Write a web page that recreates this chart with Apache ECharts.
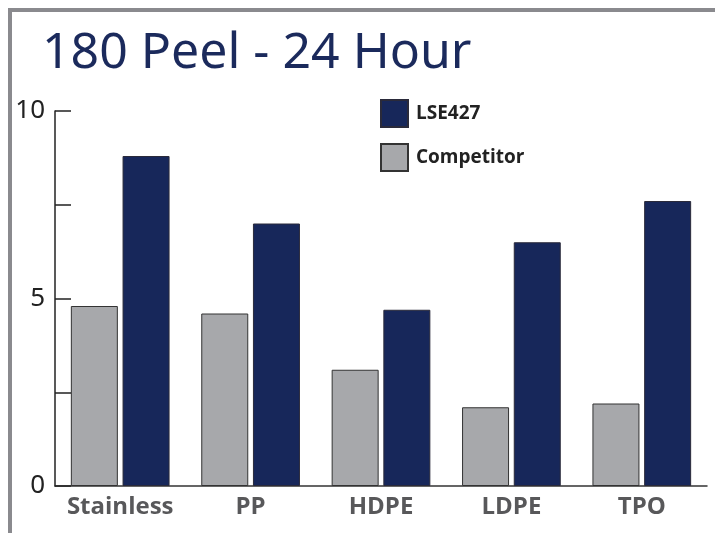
<!DOCTYPE html>
<html><head><meta charset="utf-8">
<script src="https://cdn.jsdelivr.net/npm/echarts@6/dist/echarts.min.js"></script>
<style>html,body{margin:0;padding:0;background:#fff;}#c{width:715px;height:533px;}</style>
</head><body><div id="c"></div>
<script>
const categories = ['Stainless', 'PP', 'HDPE', 'LDPE', 'TPO'];
const competitor = [4.8, 4.6, 3.1, 2.1, 2.2];
const lse427 = [8.8, 7.0, 4.7, 6.5, 7.6];
const yTickLabels = [0, 5, 10];

const chart = echarts.init(document.getElementById('c'));
chart.setOption({
  animation: false,
  backgroundColor: '#fff',
  title: {
    text: '180 Peel - 24 Hour',
    left: 37, top: 24,
    textStyle: { fontFamily: 'Noto Sans', fontWeight: 'normal', fontSize: 50, color: '#1b2a5c' }
  },
  graphic: [
    { type: 'rect', shape: { x: 8, y: 8, width: 707, height: 4 }, style: { fill: '#8a8a8e' } },
    { type: 'rect', shape: { x: 8, y: 8, width: 4, height: 525 }, style: { fill: '#8a8a8e' } }
  ],
  legend: {
    data: ['LSE427', 'Competitor'],
    orient: 'vertical', left: 380, top: 99, padding: 0,
    itemWidth: 27, itemHeight: 27, itemGap: 15,
    icon: 'rect',
    textStyle: { fontFamily: 'Open Sans', fontWeight: 'bold', fontSize: 19, color: '#222', padding: [0, 0, 0, 3] }
  },
  grid: { left: 55, right: 8, top: 111, bottom: 47, containLabel: false },
  xAxis: {
    type: 'category', data: categories,
    axisLine: { lineStyle: { color: '#333', width: 1.5 } },
    axisTick: { inside: true, length: 8, lineStyle: { color: '#333', width: 1.5 } },
    axisLabel: { interval: 0, margin: 9, fontFamily: 'Open Sans', fontWeight: 'bold', fontSize: 24, color: '#58585a' }
  },
  yAxis: {
    type: 'value', min: 0, max: 10, interval: 2.5,
    splitLine: { show: false },
    axisLine: { show: true, lineStyle: { color: '#222', width: 1.5 } },
    axisTick: { show: true, inside: true, length: 16, lineStyle: { color: '#222', width: 1.5 } },
    axisLabel: {
      margin: 10, fontFamily: 'Noto Sans', fontSize: 26, color: '#222',
      formatter: v => yTickLabels.includes(v) ? String(v) : ''
    }
  },
  series: [
    { name: 'Competitor', type: 'bar', data: competitor, barWidth: 47, barGap: '10%',
      itemStyle: { color: '#a7a8ab', borderColor: '#333', borderWidth: 1 } },
    { name: 'LSE427', type: 'bar', data: lse427, barWidth: 47,
      itemStyle: { color: '#17275a', borderColor: '#2a2a3a', borderWidth: 1 } }
  ]
});
</script></body></html>
